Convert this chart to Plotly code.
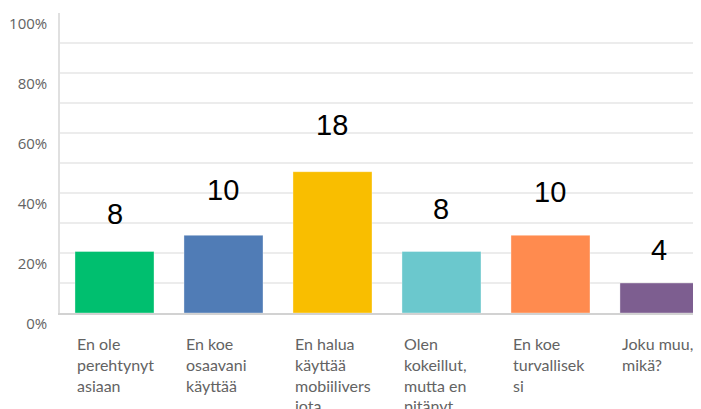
import plotly.graph_objects as go

# ---- data ----
categories = [
    "En ole perehtynyt asiaan",
    "En koe osaavani käyttää",
    "En halua käyttää mobiiliversiota",
    "Olen kokeillut, mutta en pitänyt",
    "En koe turvalliseksi",
    "Joku muu, mikä?",
]
category_labels = [
    "En ole<br>perehtynyt<br>asiaan",
    "En koe<br>osaavani<br>käyttää",
    "En halua<br>käyttää<br>mobiilivers<br>iota",
    "Olen<br>kokeillut,<br>mutta en<br>pitänyt",
    "En koe<br>turvallisek<br>si",
    "Joku muu,<br>mikä?",
]
counts = [8, 10, 18, 8, 10, 4]
percent = [20.5, 25.9, 47.1, 20.5, 25.9, 10.0]
y_tick_values = [0, 20, 40, 60, 80, 100]
y_tick_labels = ["0%", "20%", "40%", "60%", "80%", "100%"]

# ---- style ----
colors = ["#00BF6F", "#507CB6", "#F9BE00", "#6BC8CD", "#FF8B4F", "#7D5E90"]
label_lift = [38, 45, 47, 43, 43, 33]  # px between bar top and value label centre
bar_width = 0.725
xpos = list(range(len(categories)))

fig = go.Figure()
fig.add_trace(go.Bar(
    x=xpos, y=percent, width=bar_width,
    marker=dict(color=colors, line=dict(color="rgba(255,255,255,0.35)", width=1)),
    hoverinfo="skip", showlegend=False,
))

annotations = []
for i, (c, p, lift) in enumerate(zip(counts, percent, label_lift)):
    annotations.append(dict(
        x=i, y=p, xref="x", yref="y", text=str(c), showarrow=False,
        yanchor="middle", xanchor="center", yshift=lift,
        font=dict(family="Liberation Sans, Arial, sans-serif", size=29, color="#000000"),
    ))
for i, lab in enumerate(category_labels):
    annotations.append(dict(
        x=i - bar_width / 2, y=0, xref="x", yref="y", text=lab, showarrow=False,
        xanchor="left", yanchor="top", align="left", xshift=0, yshift=-19,
        font=dict(family="Lato, Open Sans, sans-serif", size=16, color="#636363"),
    ))

# page body has an 8px default margin, so the figure is sized to fill the rest
fig.update_layout(
    width=693, height=401,
    margin=dict(l=52, r=0, t=5, b=96),
    paper_bgcolor="white", plot_bgcolor="white",
    bargap=0.275,
    annotations=annotations,
    xaxis=dict(
        range=[-0.5, 5.381], showticklabels=False, showgrid=False, zeroline=False,
        showline=True, linecolor="#d2d2d2", linewidth=2, ticks="", fixedrange=True,
        automargin=False,
    ),
    yaxis=dict(
        range=[0, 100], tickvals=y_tick_values, ticktext=y_tick_labels,
        showgrid=True, gridcolor="#ececec", gridwidth=1.5,
        minor=dict(dtick=10, showgrid=True, gridcolor="#ececec", gridwidth=1.5),
        zeroline=False, showline=True, linecolor="#e0e0e0", linewidth=1.5,
        ticks="", ticklabelposition="outside bottom", ticklabelstandoff=8,
        tickfont=dict(family="Open Sans, sans-serif", size=15, color="#636363"),
        fixedrange=True, automargin=False,
    ),
)

fig.write_html("out.html")
